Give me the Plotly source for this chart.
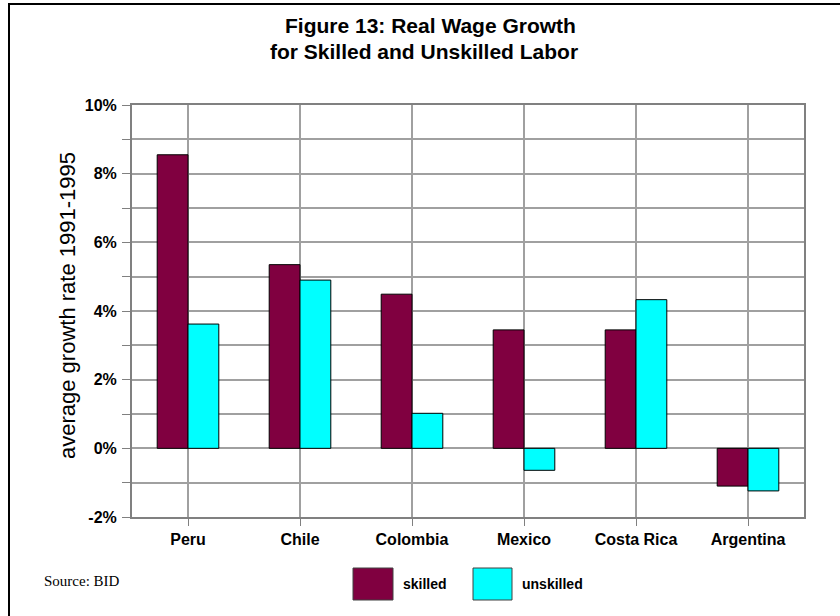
import plotly.graph_objects as go

countries = ["Peru", "Chile", "Colombia", "Mexico", "Costa Rica", "Argentina"]
skilled = [8.55, 5.35, 4.49, 3.45, 3.45, -1.10]
unskilled = [3.62, 4.90, 1.02, -0.64, 4.33, -1.24]
y_ticks = [-2, 0, 2, 4, 6, 8, 10]
y_tick_text = ["-2%", "0%", "2%", "4%", "6%", "8%", "10%"]

SKILLED_COLOR = "#800040"
UNSKILLED_COLOR = "#00FFFF"
FONT = "Liberation Sans, Arial, sans-serif"

# plot area in window pixels
L, R, T, B = 132, 804, 105, 517
W, H = 840, 616


def px(x):
    return (x - L) / (R - L)


def py(y):
    return (B - y) / (B - T)


fig = go.Figure()
fig.add_trace(go.Bar(x=countries, y=skilled, name="skilled",
                     marker=dict(color=SKILLED_COLOR, line=dict(color="#000000", width=1))))
fig.add_trace(go.Bar(x=countries, y=unskilled, name="unskilled",
                     marker=dict(color=UNSKILLED_COLOR, line=dict(color="#000000", width=1))))

grid = "#a0a0a0"
fig.update_layout(
    width=W, height=H,
    margin=dict(l=L, r=W - R, t=T, b=H - B, pad=0),
    paper_bgcolor="white", plot_bgcolor="white",
    barmode="group", bargap=0.45, bargroupgap=0,
    showlegend=False,
    font=dict(family=FONT, color="#000000"),
)
fig.update_xaxes(
    showgrid=True, gridcolor=grid, gridwidth=1.5,
    showline=True, linecolor="#808080", linewidth=2, mirror=True,
    ticks="outside", ticklen=7, tickcolor="#808080", tickwidth=1,
    tickfont=dict(size=16, family=FONT, weight="bold"),
    ticklabelstandoff=0,
)
fig.update_yaxes(
    range=[-2, 10], tickmode="array", tickvals=y_ticks, ticktext=y_tick_text,
    showgrid=True, gridcolor=grid, gridwidth=1.5,
    zeroline=False,
    showline=True, linecolor="#808080", linewidth=2, mirror=True,
    ticks="outside", ticklen=8, tickcolor="#808080", tickwidth=1,
    tickfont=dict(size=16, family=FONT, weight="bold"),
    minor=dict(dtick=1, tick0=0, showgrid=True, gridcolor=grid, gridwidth=1.5,
               ticks="outside", ticklen=8, tickcolor="#808080"),
    ticklabelstandoff=2,
)

ann = []
ann.append(dict(text="<b>Figure 13: Real Wage Growth</b>", x=px(430), y=py(26),
                xref="paper", yref="paper", xanchor="center", yanchor="middle",
                showarrow=False, font=dict(size=21, family=FONT)))
ann.append(dict(text="<b>for Skilled and Unskilled Labor</b>", x=px(424), y=py(51),
                xref="paper", yref="paper", xanchor="center", yanchor="middle",
                showarrow=False, font=dict(size=21, family=FONT)))
ann.append(dict(text="average growth rate 1991-1995", x=px(67), y=py(306), textangle=-90,
                xref="paper", yref="paper", xanchor="center", yanchor="middle",
                showarrow=False, font=dict(size=22, family=FONT)))
ann.append(dict(text="Source: BID", x=px(42), y=py(581),
                xref="paper", yref="paper", xanchor="left", yanchor="middle",
                showarrow=False, font=dict(size=15, family="Liberation Serif, Times New Roman, serif")))
ann.append(dict(text="<b>skilled</b>", x=px(401), y=py(584),
                xref="paper", yref="paper", xanchor="left", yanchor="middle",
                showarrow=False, font=dict(size=14, family=FONT)))
ann.append(dict(text="<b>unskilled</b>", x=px(520), y=py(584),
                xref="paper", yref="paper", xanchor="left", yanchor="middle",
                showarrow=False, font=dict(size=14, family=FONT)))

shapes = []
shapes.append(dict(type="rect", xref="paper", yref="paper",
                   x0=px(353), x1=px(393), y0=py(568), y1=py(600),
                   fillcolor=SKILLED_COLOR, line=dict(color="#404040", width=1)))
shapes.append(dict(type="rect", xref="paper", yref="paper",
                   x0=px(473), x1=px(512), y0=py(568), y1=py(600),
                   fillcolor=UNSKILLED_COLOR, line=dict(color="#404040", width=1)))
shapes.append(dict(type="rect", xref="paper", yref="paper",
                   x0=px(9), x1=px(860), y0=py(4), y1=py(640),
                   fillcolor="rgba(0,0,0,0)", line=dict(color="#000000", width=2)))

fig.update_layout(annotations=ann, shapes=shapes)
fig.write_html("out.html", config={"displayModeBar": False},
               post_script="document.body.style.margin='0';")
